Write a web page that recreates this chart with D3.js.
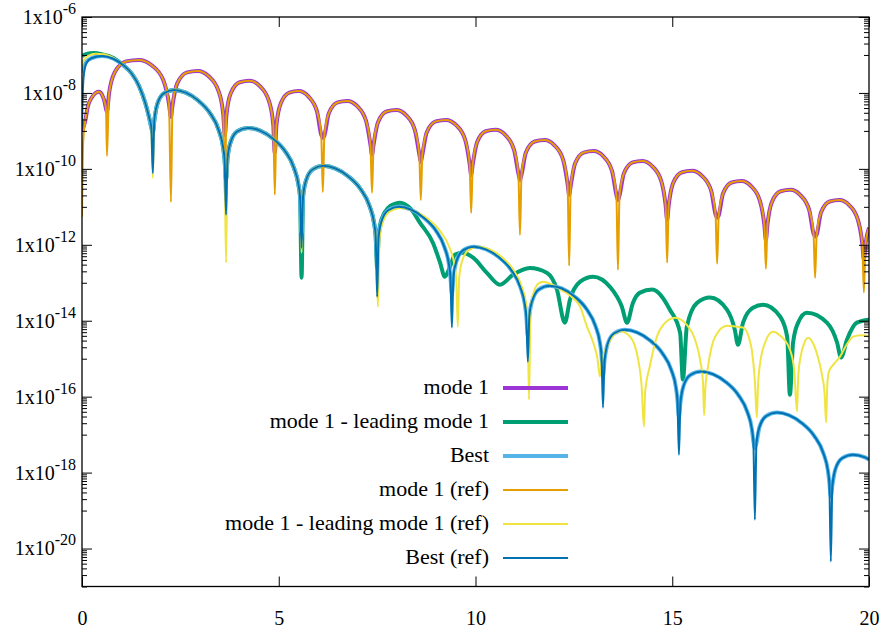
<!DOCTYPE html>
<html><head><meta charset="utf-8">
<script src="https://cdn.jsdelivr.net/npm/d3@7/dist/d3.min.js"></script>
<style>
html,body{margin:0;padding:0;background:#fff;}
svg{display:block;}
</style></head><body>
<svg id="chart" width="883" height="635"></svg>
<script>
// ---- ticks ----
const xTicks=[0,5,10,15,20];
const yMajorTicks=[1e-6,1e-8,1e-10,1e-12,1e-14,1e-16,1e-18,1e-20];
const seriesNames=["mode 1","mode 1 - leading mode 1","Best","mode 1 (ref)","mode 1 - leading mode 1 (ref)","Best (ref)"];

// ---- series values [x, y] ----
const mode1=[[0,1.0e-9],[0.08,1.78e-9],[0.15,4.47e-9],[0.25,7.59e-9],[0.35,1.0e-8],[0.43,1.07e-8],[0.51,8.91e-9],[0.57,6.03e-9],[0.61,3.80e-9],[0.635,3.16e-9],
[0.684,9.12e-9],[0.83,3.47e-8],[1.12,6.76e-8],[1.45,7.41e-8],[1.77,5.37e-8],[2.065,2.19e-8],[2.21,5.25e-9],[2.26,2.34e-9],
[2.30,4.68e-9],[2.42,1.78e-8],[2.67,3.47e-8],[2.945,3.80e-8],[3.22,2.75e-8],[3.47,1.12e-8],[3.59,2.69e-9],[3.63,7.76e-10],
[3.67,2.57e-9],[3.78,9.77e-9],[4.01,1.91e-8],[4.265,2.09e-8],[4.52,1.51e-8],[4.75,6.17e-9],[4.86,1.48e-9],[4.90,2.63e-10],
[4.94,1.38e-9],[5.05,5.25e-9],[5.27,1.02e-8],[5.51,1.12e-8],[5.75,8.13e-9],[5.97,3.31e-9],[6.08,7.94e-10],[6.12,6.61e-10],
[6.16,7.59e-10],[6.27,2.88e-9],[6.495,5.62e-9],[6.745,6.17e-9],[6.995,4.47e-9],[7.22,1.82e-9],[7.33,4.37e-10],[7.37,2.34e-10],
[7.41,4.37e-10],[7.52,1.66e-9],[7.74,3.24e-9],[7.99,3.55e-9],[8.24,2.57e-9],[8.46,1.05e-9],[8.57,2.51e-10],[8.61,1.51e-10],
[8.65,2.40e-10],[8.76,9.12e-10],[8.99,1.78e-9],[9.25,1.95e-9],[9.51,1.41e-9],[9.74,5.75e-10],[9.85,1.38e-10],[9.89,6.92e-11],
[9.93,1.32e-10],[10.04,5.01e-10],[10.26,9.77e-10],[10.51,1.07e-9],[10.76,7.76e-10],[10.98,3.16e-10],[11.09,7.59e-11],[11.13,5.13e-11],
[11.17,7.08e-11],[11.28,2.69e-10],[11.505,5.25e-10],[11.755,5.75e-10],[12.005,4.17e-10],[12.23,1.70e-10],[12.34,4.07e-11],[12.38,2.09e-11],
[12.42,3.63e-11],[12.53,1.38e-10],[12.75,2.69e-10],[13.00,2.95e-10],[13.25,2.14e-10],[13.47,8.71e-11],[13.58,2.09e-11],[13.62,1.51e-11],
[13.66,2.00e-11],[13.77,7.59e-11],[13.995,1.48e-10],[14.245,1.62e-10],[14.495,1.17e-10],[14.72,4.79e-11],[14.83,1.15e-11],[14.87,4.57e-12],
[14.91,1.10e-11],[15.02,4.17e-11],[15.25,8.13e-11],[15.505,8.91e-11],[15.76,6.46e-11],[15.99,2.63e-11],[16.10,6.31e-12],[16.14,5.13e-12],
[16.18,5.89e-12],[16.29,2.24e-11],[16.51,4.37e-11],[16.76,4.79e-11],[17.01,3.47e-11],[17.23,1.41e-11],[17.34,3.39e-12],[17.38,1.35e-12],
[17.42,3.47e-12],[17.53,1.32e-11],[17.755,2.57e-11],[18.005,2.82e-11],[18.255,2.04e-11],[18.48,8.32e-12],[18.59,2.00e-12],[18.63,1.66e-12],
[18.67,1.86e-12],[18.78,7.08e-12],[19.00,1.38e-11],[19.25,1.51e-11],[19.50,1.10e-11],[19.72,4.47e-12],[19.83,1.07e-12],[19.87,4.07e-13],
[19.91,1.02e-12],[20.0,2.82e-12]];

const mode1Lead=[[0,9.33e-8],[0.1,1.05e-7],[0.3,1.12e-7],[0.5,1.05e-7],[0.8,8.32e-8],[1.05,5.37e-8],[1.27,3.16e-8],[1.45,1.51e-8],[1.61,5.37e-9],[1.70,2.40e-9],[1.76,1.26e-9],[1.80,8.91e-10],
[1.837,1.86e-9],[1.912,5.01e-9],[2.079,9.77e-9],[2.339,1.20e-8],[2.637,1.02e-8],[2.953,6.31e-9],[3.251,2.95e-9],[3.474,1.05e-9],[3.586,3.72e-10],[3.623,1.78e-10],[3.66,5.13e-11],
[3.698,1.86e-10],[3.775,5.01e-10],[3.948,9.77e-10],[4.217,1.20e-9],[4.524,1.02e-9],[4.850,6.31e-10],[5.158,2.95e-10],[5.388,1.05e-10],[5.503,3.72e-11],[5.542,1.78e-11],[5.58,1.35e-13],
[5.618,1.86e-11],[5.695,5.01e-11],[5.868,9.77e-11],[6.137,1.20e-10],[6.444,1.02e-10],[6.770,6.31e-11],[7.078,2.95e-11],[7.308,1.05e-11],[7.423,3.72e-12],[7.462,1.78e-12],[7.50,2.51e-13],
[7.538,1.78e-12],[7.614,4.79e-12],[7.785,9.55e-12],[7.95,1.20e-11],[8.08,1.29e-11],[8.35,8.91e-12],[8.59,3.80e-12],[8.92,1.12e-12],[9.10,3.39e-13],[9.22,1.45e-13],[9.35,2.63e-13],[9.48,5.50e-13],[9.68,6.17e-13],[9.94,4.57e-13],[10.29,1.82e-13],[10.62,8.91e-14],[10.95,1.62e-13],[11.38,2.45e-13],[11.82,1.82e-13],[12.07,6.61e-14],[12.27,8.91e-15],[12.40,3.55e-14],[12.66,1.07e-13],[12.99,1.45e-13],[13.42,7.76e-14],[13.72,2.34e-14],[13.85,8.91e-15],[14.0,2.95e-14],[14.18,5.50e-14],[14.49,6.61e-14],[14.94,1.95e-14],[15.20,4.79e-15],[15.27,2.82e-16],[15.37,6.92e-15],[15.63,2.95e-14],[15.96,4.07e-14],[16.39,1.95e-14],[16.59,5.75e-15],[16.67,2.34e-15],[16.80,8.91e-15],[17.05,2.19e-14],[17.31,2.63e-14],[17.74,1.29e-14],[17.92,3.80e-15],[17.99,1.12e-16],[18.07,2.63e-15],[18.20,8.91e-15],[18.42,1.62e-14],[18.93,8.91e-15],[19.19,2.63e-15],[19.29,1.07e-15],[19.44,3.16e-15],[19.69,8.91e-15],[20.0,1.07e-14]];

const best=[[0,3.39e-8],[0.05,5.01e-8],[0.12,6.76e-8],[0.25,8.32e-8],[0.51,9.33e-8],[0.8,7.94e-8],[1.05,5.37e-8],[1.27,3.16e-8],[1.45,1.51e-8],[1.61,5.37e-9],[1.70,2.40e-9],[1.76,1.26e-9],[1.80,8.91e-10],
[1.837,1.86e-9],[1.912,5.01e-9],[2.079,9.77e-9],[2.339,1.20e-8],[2.637,1.02e-8],[2.953,6.31e-9],[3.251,2.95e-9],[3.474,1.05e-9],[3.586,3.72e-10],[3.623,1.78e-10],[3.66,5.13e-11],
[3.698,1.86e-10],[3.775,5.01e-10],[3.948,9.77e-10],[4.217,1.20e-9],[4.524,1.02e-9],[4.850,6.31e-10],[5.158,2.95e-10],[5.388,1.05e-10],[5.503,3.72e-11],[5.542,1.78e-11],[5.58,2.09e-12],
[5.618,1.86e-11],[5.695,5.01e-11],[5.868,9.77e-11],[6.137,1.20e-10],[6.444,1.02e-10],[6.770,6.31e-11],[7.078,2.95e-11],[7.308,1.05e-11],[7.423,3.72e-12],[7.462,1.78e-12],[7.50,3.98e-13],
[7.538,1.55e-12],[7.614,4.17e-12],[7.785,8.13e-12],[8.051,1.0e-11],[8.355,8.51e-12],[8.678,5.25e-12],[8.982,2.45e-12],[9.21,8.71e-13],[9.324,3.09e-13],[9.362,1.48e-13],[9.40,5.01e-14],
[9.439,1.38e-13],[9.516,3.72e-13],[9.690,7.24e-13],[9.960,8.91e-13],[10.269,7.59e-13],[10.597,4.68e-13],[10.905,2.19e-13],[11.137,7.76e-14],[11.253,2.75e-14],[11.291,1.32e-14],[11.33,3.98e-15],
[11.368,1.29e-14],[11.445,3.47e-14],[11.617,6.76e-14],[11.884,8.32e-14],[12.19,7.08e-14],[12.514,4.37e-14],[12.82,2.04e-14],[13.049,7.24e-15],[13.164,2.57e-15],[13.202,1.23e-15],[13.24,3.39e-16],
[13.279,8.91e-16],[13.356,2.40e-15],[13.530,4.68e-15],[13.800,5.75e-15],[14.109,4.90e-15],[14.437,3.02e-15],[14.745,1.41e-15],[14.977,5.01e-16],[15.093,1.78e-16],[15.131,8.51e-17],[15.17,2.95e-17],
[15.209,7.08e-17],[15.286,1.91e-16],[15.460,3.72e-16],[15.730,4.57e-16],[16.039,3.89e-16],[16.367,2.40e-16],[16.675,1.12e-16],[16.907,3.98e-17],[17.023,1.41e-17],[17.061,6.76e-18],[17.10,4.47e-18],
[17.139,5.89e-18],[17.216,1.58e-17],[17.390,3.09e-17],[17.660,3.80e-17],[17.969,3.24e-17],[18.297,2.00e-17],[18.605,9.33e-18],[18.837,3.31e-18],[18.953,1.17e-18],[18.991,5.62e-19],[19.03,2.34e-19],
[19.069,4.57e-19],[19.146,1.23e-18],[19.320,2.40e-18],[19.590,2.95e-18],[19.899,2.51e-18],[20.0,2.19e-18]];

const mode1Ref=[[0,5.50e-12],[0.03,5.01e-10],[0.08,1.78e-9],[0.15,4.47e-9],[0.25,7.59e-9],[0.35,1.0e-8],[0.43,1.07e-8],[0.51,8.91e-9],[0.57,6.03e-9],[0.61,3.80e-9],[0.635,2.19e-10],
[0.684,9.12e-9],[0.83,3.47e-8],[1.12,6.76e-8],[1.45,7.41e-8],[1.77,5.37e-8],[2.065,2.19e-8],[2.21,5.25e-9],[2.26,1.35e-11],
[2.30,4.68e-9],[2.42,1.78e-8],[2.67,3.47e-8],[2.945,3.80e-8],[3.22,2.75e-8],[3.47,1.12e-8],[3.59,2.69e-9],[3.63,1.51e-11],
[3.67,2.57e-9],[3.78,9.77e-9],[4.01,1.91e-8],[4.265,2.09e-8],[4.52,1.51e-8],[4.75,6.17e-9],[4.86,1.48e-9],[4.90,2.09e-11],
[4.94,1.38e-9],[5.05,5.25e-9],[5.27,1.02e-8],[5.51,1.12e-8],[5.75,8.13e-9],[5.97,3.31e-9],[6.08,7.94e-10],[6.12,2.45e-11],
[6.16,7.59e-10],[6.27,2.88e-9],[6.495,5.62e-9],[6.745,6.17e-9],[6.995,4.47e-9],[7.22,1.82e-9],[7.33,4.37e-10],[7.37,2.34e-11],
[7.41,4.37e-10],[7.52,1.66e-9],[7.74,3.24e-9],[7.99,3.55e-9],[8.24,2.57e-9],[8.46,1.05e-9],[8.57,2.51e-10],[8.61,1.51e-11],
[8.65,2.40e-10],[8.76,9.12e-10],[8.99,1.78e-9],[9.25,1.95e-9],[9.51,1.41e-9],[9.74,5.75e-10],[9.85,1.38e-10],[9.89,6.92e-12],
[9.93,1.32e-10],[10.04,5.01e-10],[10.26,9.77e-10],[10.51,1.07e-9],[10.76,7.76e-10],[10.98,3.16e-10],[11.09,7.59e-11],[11.13,1.82e-12],
[11.17,7.08e-11],[11.28,2.69e-10],[11.505,5.25e-10],[11.755,5.75e-10],[12.005,4.17e-10],[12.23,1.70e-10],[12.34,4.07e-11],[12.38,2.82e-13],
[12.42,3.63e-11],[12.53,1.38e-10],[12.75,2.69e-10],[13.00,2.95e-10],[13.25,2.14e-10],[13.47,8.71e-11],[13.58,2.09e-11],[13.62,2.19e-13],
[13.66,2.00e-11],[13.77,7.59e-11],[13.995,1.48e-10],[14.245,1.62e-10],[14.495,1.17e-10],[14.72,4.79e-11],[14.83,1.15e-11],[14.87,3.39e-13],
[14.91,1.10e-11],[15.02,4.17e-11],[15.25,8.13e-11],[15.505,8.91e-11],[15.76,6.46e-11],[15.99,2.63e-11],[16.10,6.31e-12],[16.14,3.16e-13],
[16.18,5.89e-12],[16.29,2.24e-11],[16.51,4.37e-11],[16.76,4.79e-11],[17.01,3.47e-11],[17.23,1.41e-11],[17.34,3.39e-12],[17.38,2.34e-13],
[17.42,3.47e-12],[17.53,1.32e-11],[17.755,2.57e-11],[18.005,2.82e-11],[18.255,2.04e-11],[18.48,8.32e-12],[18.59,2.00e-12],[18.63,1.35e-13],
[18.67,1.86e-12],[18.78,7.08e-12],[19.00,1.38e-11],[19.25,1.51e-11],[19.50,1.10e-11],[19.72,4.47e-12],[19.83,1.07e-12],[19.87,5.50e-14],
[19.91,1.02e-12],[20.0,2.82e-12]];

const mode1LeadRef=[[0,5.50e-8],[0.05,7.41e-8],[0.15,9.33e-8],[0.35,1.07e-7],[0.55,1.05e-7],[0.8,8.32e-8],[1.05,5.37e-8],[1.27,3.16e-8],[1.45,1.51e-8],[1.61,5.37e-9],[1.70,2.40e-9],[1.76,1.26e-9],[1.80,5.75e-11],
[1.837,1.86e-9],[1.912,5.01e-9],[2.079,9.77e-9],[2.339,1.20e-8],[2.637,1.02e-8],[2.953,6.31e-9],[3.251,2.95e-9],[3.474,1.05e-9],[3.586,3.72e-10],[3.623,1.78e-10],[3.66,3.39e-13],
[3.698,1.86e-10],[3.775,5.01e-10],[3.948,9.77e-10],[4.217,1.20e-9],[4.524,1.02e-9],[4.850,6.31e-10],[5.158,2.95e-10],[5.388,1.05e-10],[5.503,3.72e-11],[5.542,1.78e-11],[5.58,6.17e-13],
[5.618,1.86e-11],[5.695,5.01e-11],[5.868,9.77e-11],[6.137,1.20e-10],[6.444,1.02e-10],[6.770,6.31e-11],[7.078,2.95e-11],[7.308,1.05e-11],[7.423,3.72e-12],[7.462,1.78e-12],[7.52,2.34e-14],
[7.561,1.45e-12],[7.642,3.89e-12],[7.825,7.59e-12],[8.109,9.33e-12],[8.434,7.94e-12],[8.779,4.90e-12],[9.103,2.29e-12],[9.347,8.13e-13],[9.469,2.88e-13],[9.509,1.38e-13],[9.55,6.92e-15],
[9.586,1.38e-13],[9.659,3.72e-13],[9.822,7.24e-13],[10.075,8.91e-13],[10.365,7.59e-13],[10.672,4.68e-13],[10.962,2.19e-13],[11.179,7.76e-14],[11.288,2.75e-14],[11.324,1.32e-14],[11.36,8.32e-17],
[11.40,2.00e-14],[11.48,5.62e-14],[11.60,9.55e-14],[11.72,1.07e-13],[11.95,8.91e-14],[12.2,6.31e-14],[12.5,3.80e-14],[12.66,2.34e-14],[12.83,7.08e-15],[13.0,2.51e-15],[13.1,1.0e-15],[13.16,3.39e-16],
[13.2,7.94e-16],[13.34,2.09e-15],[13.5,3.98e-15],[13.67,5.25e-15],[13.93,3.80e-15],[14.13,1.0e-15],[14.22,2.00e-16],[14.28,1.62e-17],
[14.31,1.26e-16],[14.43,6.31e-16],[14.61,3.80e-15],[14.77,7.76e-15],[15.07,1.20e-14],[15.37,7.76e-15],[15.58,3.16e-15],[15.72,7.94e-16],[15.78,2.51e-16],[15.81,3.24e-17],
[15.84,1.58e-16],[15.91,6.31e-16],[16.09,3.80e-15],[16.39,7.41e-15],[16.6,7.08e-15],[16.8,6.61e-15],[16.95,3.55e-15],[17.02,1.74e-15],[17.10,2.51e-16],[17.15,2.82e-17],
[17.18,2.00e-16],[17.25,1.0e-15],[17.35,2.51e-15],[17.56,5.13e-15],[17.75,3.98e-15],[17.99,1.74e-15],[18.1,5.01e-16],[18.17,4.07e-17],
[18.2,3.16e-16],[18.27,1.26e-15],[18.35,2.51e-15],[18.45,3.55e-15],[18.58,2.51e-15],[18.7,1.12e-15],[18.8,3.98e-16],[18.87,1.26e-16],[18.91,2.09e-17],
[18.94,2.00e-16],[18.98,4.57e-16],[19.1,7.08e-16],[19.26,1.12e-15],[19.45,2.51e-15],[19.6,3.80e-15],[19.8,4.17e-15],[20.0,3.80e-15]];

const bestRef=[[0,1.29e-9],[0.02,1.0e-8],[0.05,3.16e-8],[0.12,6.31e-8],[0.25,8.32e-8],[0.51,9.33e-8],[0.8,7.94e-8],[1.05,5.37e-8],[1.27,3.16e-8],[1.45,1.51e-8],[1.61,5.37e-9],[1.70,2.40e-9],[1.76,1.26e-9],[1.80,7.76e-11],
[1.837,1.86e-9],[1.912,5.01e-9],[2.079,9.77e-9],[2.339,1.20e-8],[2.637,1.02e-8],[2.953,6.31e-9],[3.251,2.95e-9],[3.474,1.05e-9],[3.586,3.72e-10],[3.623,1.78e-10],[3.66,6.17e-12],
[3.698,1.86e-10],[3.775,5.01e-10],[3.948,9.77e-10],[4.217,1.20e-9],[4.524,1.02e-9],[4.850,6.31e-10],[5.158,2.95e-10],[5.388,1.05e-10],[5.503,3.72e-11],[5.542,1.78e-11],[5.58,8.32e-13],
[5.618,1.86e-11],[5.695,5.01e-11],[5.868,9.77e-11],[6.137,1.20e-10],[6.444,1.02e-10],[6.770,6.31e-11],[7.078,2.95e-11],[7.308,1.05e-11],[7.423,3.72e-12],[7.462,1.78e-12],[7.50,4.27e-14],
[7.538,1.55e-12],[7.614,4.17e-12],[7.785,8.13e-12],[8.051,1.0e-11],[8.355,8.51e-12],[8.678,5.25e-12],[8.982,2.45e-12],[9.21,8.71e-13],[9.324,3.09e-13],[9.362,1.48e-13],[9.40,6.61e-15],
[9.439,1.38e-13],[9.516,3.72e-13],[9.690,7.24e-13],[9.960,8.91e-13],[10.269,7.59e-13],[10.597,4.68e-13],[10.905,2.19e-13],[11.137,7.76e-14],[11.253,2.75e-14],[11.291,1.32e-14],[11.33,8.32e-16],
[11.368,1.29e-14],[11.445,3.47e-14],[11.617,6.76e-14],[11.884,8.32e-14],[12.19,7.08e-14],[12.514,4.37e-14],[12.82,2.04e-14],[13.049,7.24e-15],[13.164,2.57e-15],[13.202,1.23e-15],[13.24,5.13e-17],
[13.279,8.91e-16],[13.356,2.40e-15],[13.530,4.68e-15],[13.800,5.75e-15],[14.109,4.90e-15],[14.437,3.02e-15],[14.745,1.41e-15],[14.977,5.01e-16],[15.093,1.78e-16],[15.131,8.51e-17],[15.17,2.95e-18],
[15.209,7.08e-17],[15.286,1.91e-16],[15.460,3.72e-16],[15.730,4.57e-16],[16.039,3.89e-16],[16.367,2.40e-16],[16.675,1.12e-16],[16.907,3.98e-17],[17.023,1.41e-17],[17.061,6.76e-18],[17.10,5.75e-20],
[17.139,5.89e-18],[17.216,1.58e-17],[17.390,3.09e-17],[17.660,3.80e-17],[17.969,3.24e-17],[18.297,2.00e-17],[18.605,9.33e-18],[18.837,3.31e-18],[18.953,1.17e-18],[18.991,5.62e-19],[19.03,4.57e-21],
[19.069,4.57e-19],[19.146,1.23e-18],[19.320,2.40e-18],[19.590,2.95e-18],[19.899,2.51e-18],[20.0,2.19e-18]];

// ---- drawing ----
const FONT='"Liberation Serif","DejaVu Serif","Times New Roman",Times,serif';
const svg=d3.select("#chart");
const L=82,R=869,T=17,B=586.5;
const x=d3.scaleLinear().domain([0,20]).range([L,R]);
const y=d3.scaleLog().domain([1e-21,1e-6]).range([B,T]);

svg.append("rect").attr("width",883).attr("height",635).attr("fill","#fff");
svg.append("defs").append("clipPath").attr("id","plotclip")
  .append("rect").attr("x",L).attr("y",T).attr("width",R-L).attr("height",B-T);

const series=[
  {name:seriesNames[0],data:mode1,color:"#9b35d6",w:4},
  {name:seriesNames[1],data:mode1Lead,color:"#009e73",w:4},
  {name:seriesNames[2],data:best,color:"#56b4e9",w:4},
  {name:seriesNames[3],data:mode1Ref,color:"#e69f00",w:2},
  {name:seriesNames[4],data:mode1LeadRef,color:"#f0e442",w:2},
  {name:seriesNames[5],data:bestRef,color:"#0072b2",w:2}
];

const line=d3.line().x(d=>x(d[0])).y(d=>y(d[1])).curve(d3.curveMonotoneX);
const gLines=svg.append("g").attr("clip-path","url(#plotclip)");
series.forEach(s=>{
  gLines.append("path").datum(s.data).attr("d",line)
    .attr("fill","none").attr("stroke",s.color).attr("stroke-width",s.w)
    .attr("stroke-linejoin","round").attr("stroke-linecap","butt");
});

// minor y ticks: 1..9 x 10^(major-1)
const yMinorTicks=[];
yMajorTicks.forEach(m=>{for(let k=1;k<=9;k++) yMinorTicks.push(k*m/10);});

function styleAxis(g){
  g.select(".domain").remove();
  g.attr("font-family",null).attr("font-size",null).attr("color","#000");
  g.selectAll(".tick line").attr("stroke","#000").attr("stroke-width",1);
}
// left
const gL=svg.append("g").attr("transform",`translate(${L},0)`)
  .call(d3.axisLeft(y).tickValues(yMajorTicks).tickSize(-10).tickSizeOuter(0).tickPadding(6));
styleAxis(gL);
gL.selectAll(".tick text").each(function(d){
  const t=d3.select(this);
  t.text(null).style("font-family",FONT).attr("font-size",20).attr("fill","#000");
  t.append("tspan").text("1x10");
  t.append("tspan").attr("font-size",16).attr("dy",-10).text(String(Math.round(Math.log10(d))));
});
styleAxis(svg.append("g").attr("transform",`translate(${L},0)`)
  .call(d3.axisLeft(y).tickValues(yMinorTicks).tickSize(-5).tickSizeOuter(0).tickFormat("")));
// right
styleAxis(svg.append("g").attr("transform",`translate(${R},0)`)
  .call(d3.axisRight(y).tickValues(yMajorTicks).tickSize(-10).tickSizeOuter(0).tickFormat("")));
styleAxis(svg.append("g").attr("transform",`translate(${R},0)`)
  .call(d3.axisRight(y).tickValues(yMinorTicks).tickSize(-5).tickSizeOuter(0).tickFormat("")));
// bottom
const gB=svg.append("g").attr("transform",`translate(0,${B})`)
  .call(d3.axisBottom(x).tickValues(xTicks).tickSize(-10).tickSizeOuter(0).tickPadding(24));
styleAxis(gB);
gB.selectAll(".tick text").style("font-family",FONT).attr("font-size",20).attr("fill","#000");
// top
styleAxis(svg.append("g").attr("transform",`translate(0,${T})`)
  .call(d3.axisTop(x).tickValues(xTicks).tickSize(-10).tickSizeOuter(0).tickFormat("")));

// border
svg.append("rect").attr("x",L).attr("y",T).attr("width",R-L).attr("height",B-T)
  .attr("fill","none").attr("stroke","#000").attr("stroke-width",1.3);

// legend
const legTextX=489, legLineX0=503, legLineX1=568, legY0=388, legDy=34;
const gLeg=svg.append("g");
series.forEach((s,i)=>{
  const yy=legY0+i*legDy;
  gLeg.append("text").attr("x",legTextX).attr("y",yy+6).attr("text-anchor","end")
    .style("font-family",FONT).attr("font-size",22).attr("fill","#000").text(s.name);
  gLeg.append("line").attr("x1",legLineX0).attr("x2",legLineX1).attr("y1",yy).attr("y2",yy)
    .attr("stroke",s.color).attr("stroke-width",s.w);
});
</script>
</body></html>
